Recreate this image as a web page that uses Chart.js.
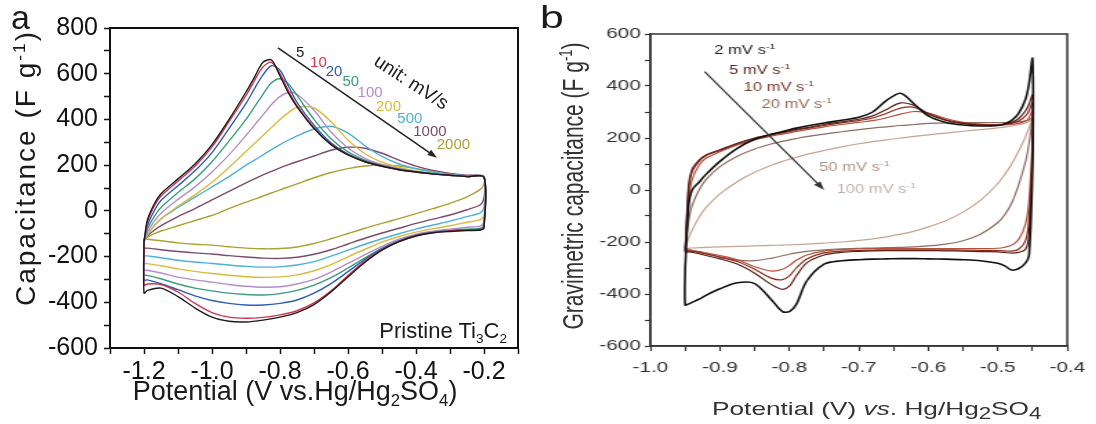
<!DOCTYPE html>
<html>
<head>
<meta charset="utf-8">
<script src="https://cdn.jsdelivr.net/npm/chart.js@4.4.1/dist/chart.umd.min.js"></script>
<style>
  html, body { margin: 0; padding: 0; background: #fff; }
  body { width: 1096px; height: 424px; position: relative; overflow: hidden;
         font-family: 'Liberation Sans', Arial, sans-serif; color: #1a1a1a; }
  .panel { position: absolute; top: 0; height: 424px; }
  #panelA { left: 0; width: 540px; }
  #panelB { left: 540px; width: 403px; transform: scaleX(1.38); transform-origin: 0 0; }
  canvas { position: absolute; left: 0; top: 0; }
  .txt { position: absolute; white-space: nowrap; line-height: 1; }
  .mid { transform: translate(-50%, -50%); }
  .rot { transform: translate(-50%, -50%) rotate(-90deg); }
  sup, sub { font-size: 0.62em; line-height: 0; }
  #panelB sub { font-size: 0.85em; }
</style>
</head>
<body>
<div class="panel" id="panelA">
  <canvas id="chartA" width="540" height="424"></canvas>
  <div class="txt" style="left:11px; top:0px; font-size:34px;">a</div>
  <div class="txt rot" style="left:26px; top:168px; font-size:28px; letter-spacing:2px;">Capacitance (F g<sup>-1</sup>)</div>
  <div class="txt mid" style="left:295px; top:391px; font-size:27px;">Potential (V vs.Hg/Hg<sub>2</sub>SO<sub>4</sub>)</div>
  <div class="txt" style="right:33px; top:320px; font-size:22px;">Pristine Ti<sub>3</sub>C<sub>2</sub></div>
</div>
<div class="panel" id="panelB">
  <canvas id="chartB" width="403" height="424"></canvas>
  <div class="txt" style="left:0px; top:2px; font-size:31px;">b</div>
  <div class="txt rot" style="left:24px; top:186px; font-size:21px; color:#333;">Gravimetric capacitance (F g<sup>-1</sup>)</div>
  <div class="txt mid" style="left:244px; top:408px; font-size:19px; color:#333;">Potential (V) <i>vs</i>. Hg/Hg<sub>2</sub>SO<sub>4</sub></div>
</div>
<script>
// ---------- panel a : pristine Ti3C2, scan rates in mV/s ----------
const ratesA = ['5', '10', '20', '50', '100', '200', '500', '1000', '2000'];

// anodic sweep (-1.2 -> -0.2 V)
const potUpA = [-1.2, -1.19, -1.17, -1.15, -1.1, -1.05, -1.0, -0.95, -0.9, -0.875, -0.85, -0.825, -0.8,
                -0.775, -0.75, -0.7, -0.65, -0.6, -0.55, -0.5, -0.45, -0.4, -0.35, -0.3, -0.25, -0.2];
const upA = [
  [-135, -40, 30, 75, 140, 205, 290, 400, 520, 585, 650, 660, 590, 515, 455, 360, 290, 245, 215, 195, 180, 170, 162, 156, 150, 147],
  [-135, -50, 20, 65, 130, 195, 280, 390, 505, 570, 630, 650, 600, 525, 460, 365, 292, 246, 215, 195, 180, 170, 162, 156, 150, 147],
  [-135, -65, 0, 45, 110, 175, 255, 360, 470, 535, 595, 635, 615, 545, 475, 375, 298, 248, 216, 196, 181, 170, 162, 156, 150, 147],
  [-135, -80, -25, 15, 80, 140, 215, 305, 400, 455, 510, 560, 578, 555, 505, 400, 315, 258, 222, 199, 183, 171, 163, 156, 150, 147],
  [-135, -95, -45, -10, 50, 105, 170, 245, 330, 375, 420, 465, 500, 518, 510, 440, 345, 275, 230, 203, 185, 172, 163, 156, 150, 147],
  [-135, -105, -65, -35, 20, 70, 125, 190, 260, 295, 330, 365, 400, 430, 452, 450, 390, 310, 250, 213, 190, 175, 164, 157, 151, 147],
  [-135, -105, -65, -35, 15, 60, 105, 150, 200, 222, 245, 268, 290, 310, 328, 358, 370, 340, 285, 238, 205, 184, 170, 160, 153, 148],
  [-130, -110, -85, -65, -25, 10, 48, 85, 122, 140, 157, 173, 188, 202, 215, 240, 265, 278, 274, 252, 222, 196, 177, 164, 156, 150],
  [-125, -115, -100, -88, -65, -42, -20, 10, 38, 51, 65, 78, 92, 105, 118, 145, 168, 185, 196, 200, 196, 185, 172, 161, 153, 148]
];

// cathodic sweep (-0.2 -> -1.2 V), stored by ascending potential
const potDownA = [-1.2, -1.19, -1.15, -1.1, -1.05, -1.0, -0.95, -0.9, -0.85, -0.8, -0.75, -0.7,
                  -0.65, -0.6, -0.55, -0.5, -0.45, -0.4, -0.35, -0.3, -0.25, -0.21, -0.2];
const downA = [
  [-360, -348, -338, -375, -425, -465, -483, -486, -478, -465, -445, -410, -355, -289, -225, -172, -135, -110, -96, -90, -86, -84, -75],
  [-325, -320, -322, -355, -405, -445, -465, -470, -466, -455, -437, -403, -350, -283, -220, -170, -134, -109, -95, -88, -84, -82, -72],
  [-302, -302, -318, -345, -372, -392, -405, -412, -412, -405, -390, -360, -318, -266, -212, -166, -131, -107, -94, -87, -83, -80, -65],
  [-280, -282, -297, -320, -338, -350, -360, -366, -368, -362, -348, -325, -292, -250, -206, -163, -130, -106, -93, -86, -80, -76, -58],
  [-258, -260, -272, -290, -302, -312, -322, -330, -334, -332, -320, -300, -268, -230, -192, -155, -124, -102, -89, -80, -72, -66, -45],
  [-229, -231, -240, -254, -265, -274, -282, -288, -291, -289, -280, -262, -235, -201, -168, -137, -112, -93, -78, -65, -50, -38, -20],
  [-195, -197, -205, -216, -224, -230, -237, -243, -246, -245, -237, -222, -198, -172, -146, -122, -100, -80, -62, -45, -25, -8, 18],
  [-162, -163, -170, -178, -184, -189, -196, -202, -207, -208, -203, -190, -170, -145, -120, -97, -76, -55, -36, -18, 5, 28, 60],
  [-122, -124, -131, -140, -146, -150, -157, -163, -166, -165, -158, -143, -122, -99, -76, -55, -34, -12, 10, 33, 61, 95, 118]
];

// ---------- panel b : scan rates in mV/s ----------
const ratesB = ['2', '5', '10', '20', '50', '100'];

const potB = [-0.95, -0.945, -0.94, -0.93, -0.92, -0.9, -0.875, -0.85, -0.825, -0.81, -0.8, -0.79, -0.775, -0.75,
              -0.725, -0.7, -0.68, -0.66, -0.64, -0.62, -0.6, -0.575, -0.55, -0.525, -0.5, -0.49, -0.48, -0.47,
              -0.46, -0.455, -0.45];
const upB = [
  [-300, -60, 0, 30, 60, 110, 160, 195, 215, 225, 232, 238, 246, 258, 268, 280, 300, 345, 372, 330, 285, 260, 250, 246, 248, 255, 268, 295, 350, 410, 505],
  [-240, 20, 80, 115, 135, 155, 180, 200, 215, 222, 228, 233, 240, 252, 262, 272, 285, 310, 335, 325, 292, 268, 255, 250, 250, 253, 260, 275, 305, 330, 365],
  [-235, 0, 70, 110, 132, 152, 177, 197, 212, 220, 225, 230, 237, 248, 258, 267, 277, 295, 315, 318, 295, 270, 257, 251, 250, 252, 256, 265, 285, 305, 335],
  [-230, -40, 40, 95, 122, 147, 173, 193, 208, 215, 220, 225, 232, 243, 252, 260, 267, 278, 292, 302, 296, 275, 260, 253, 250, 250, 252, 256, 265, 278, 305],
  [-225, -120, -60, 0, 40, 90, 130, 158, 178, 187, 193, 198, 205, 215, 224, 232, 238, 243, 248, 252, 256, 258, 259, 259, 259, 259, 260, 262, 266, 270, 280],
  [-225, -185, -155, -105, -68, -15, 32, 68, 96, 110, 118, 126, 137, 152, 166, 178, 186, 193, 200, 206, 212, 219, 226, 232, 239, 242, 246, 251, 258, 264, 272]
];
const downB = [
  [-442, -438, -432, -420, -405, -380, -357, -360, -425, -468, -468, -440, -350, -285, -272, -268, -266, -265, -264, -264, -265, -266, -268, -272, -282, -292, -308, -302, -280, -250, 100],
  [-240, -238, -240, -245, -252, -265, -285, -320, -365, -382, -370, -330, -280, -250, -240, -236, -234, -233, -233, -233, -233, -234, -235, -237, -238, -240, -243, -240, -228, -170, 150],
  [-235, -235, -236, -240, -246, -258, -275, -305, -340, -345, -330, -300, -265, -242, -235, -232, -231, -230, -230, -230, -230, -230, -231, -232, -233, -234, -235, -228, -195, -110, 180],
  [-230, -232, -234, -237, -242, -252, -268, -295, -312, -305, -290, -270, -250, -235, -229, -226, -225, -225, -225, -225, -225, -225, -225, -225, -224, -220, -212, -190, -130, -40, 200],
  [-225, -228, -232, -238, -245, -258, -270, -272, -262, -253, -247, -242, -236, -230, -226, -224, -223, -222, -221, -219, -215, -208, -195, -170, -125, -95, -50, 20, 110, 180, 280],
  [-225, -224, -223, -222, -221, -219, -217, -215, -213, -212, -211, -210, -208, -204, -200, -194, -188, -180, -170, -158, -142, -118, -85, -40, 25, 60, 100, 150, 205, 240, 272]
];

// ---------- styles / annotation placement ----------
const colorsA = ['#1b1b1b', '#d2334f', '#2e5db4', '#3b9c7c', '#b58ccb', '#d9ba3c', '#4cb0da', '#7c4a6c', '#a9a233'];
const labelPosA = [[-0.741, 690], [-0.687, 646], [-0.641, 609], [-0.592, 566], [-0.535, 515],
                   [-0.481, 456], [-0.418, 401], [-0.359, 347], [-0.290, 289]];
const colorsB = ['#111111', '#5a1e18', '#8e2c1c', '#b5503c', '#8d6b62', '#c7a292'];
const labelColorsB = ['#222222', '#5b2a26', '#7a3a30', '#9a6858', '#b0948a', '#bfb2ad'];
const labelPosB = [[-0.908, 535], [-0.887, 458], [-0.866, 392], [-0.840, 327], [-0.757, 85], [-0.732, 0]];

Chart.defaults.font.family = "'Liberation Sans', Arial, sans-serif";
Chart.defaults.color = '#1a1a1a';

// closed CV loop: anodic branch forward, cathodic branch back
function loopPoints(potUp, up, potDown, down) {
    const pts = potUp.map((x, i) => ({ x, y: up[i] }));
    for (let i = potDown.length - 1; i >= 0; i--) pts.push({ x: potDown[i], y: down[i] });
    pts.push(pts[0]);
    return pts;
}

function isMajor(v, step) {
    const r = v / step;
    return Math.abs(r - Math.round(r)) < 1e-6;
}

function linearAxis(o) {
    return {
        type: 'linear', min: o.min, max: o.max,
        ticks: {
            stepSize: o.step, precision: 3, autoSkip: false, maxRotation: 0, padding: o.pad,
            font: { size: o.font }, color: o.color,
            callback: v => isMajor(v, o.major) ? (o.dec ? v.toFixed(o.dec) : String(Math.round(v))) : ''
        },
        grid: { display: true, drawOnChartArea: false, drawTicks: true, tickLength: o.tick,
                tickColor: o.color, tickWidth: o.tickWidth },
        border: { display: true, color: o.color, width: o.line },
        afterFit: s => { if (o.w) s.width = o.w; if (o.h) s.height = o.h; }
    };
}

function drawRich(ctx, parts, size, align) {
    const fam = "'Liberation Sans', Arial, sans-serif";
    const fontOf = k => `${k === 'n' ? size : Math.round(size * 0.65)}px ${fam}`;
    const widths = parts.map(([t, k]) => { ctx.font = fontOf(k); return ctx.measureText(t).width; });
    const total = widths.reduce((s, w) => s + w, 0);
    let x = align === 'center' ? -total / 2 : align === 'right' ? -total : 0;
    parts.forEach(([t, k], i) => {
        ctx.font = fontOf(k);
        const dy = k === 'sup' ? -size * 0.38 : k === 'sub' ? size * 0.22 : 0;
        ctx.fillText(t, x, dy);
        x += widths[i];
    });
}

function drawArrow(ctx, x1, y1, x2, y2, a) {
    const ang = Math.atan2(y2 - y1, x2 - x1);
    ctx.strokeStyle = a.color; ctx.fillStyle = a.color; ctx.lineWidth = a.width;
    ctx.beginPath();
    ctx.moveTo(x1, y1);
    ctx.lineTo(x2 - Math.cos(ang) * a.head * 0.8, y2 - Math.sin(ang) * a.head * 0.8);
    ctx.stroke();
    ctx.beginPath();
    ctx.moveTo(x2, y2);
    ctx.lineTo(x2 - a.head * Math.cos(ang - 0.33), y2 - a.head * Math.sin(ang - 0.33));
    ctx.lineTo(x2 - a.head * Math.cos(ang + 0.33), y2 - a.head * Math.sin(ang + 0.33));
    ctx.closePath();
    ctx.fill();
}

function makeNotes(notes) {
    return {
        id: 'notes',
        afterDatasetsDraw(chart) {
            const { ctx, scales: { x, y } } = chart;
            ctx.save();
            notes.arrows.forEach(a => drawArrow(ctx,
                x.getPixelForValue(a.from[0]), y.getPixelForValue(a.from[1]),
                x.getPixelForValue(a.to[0]), y.getPixelForValue(a.to[1]), a));
            notes.labels.forEach(l => {
                ctx.save();
                ctx.translate(x.getPixelForValue(l.at[0]), y.getPixelForValue(l.at[1]));
                if (l.angle) ctx.rotate(l.angle * Math.PI / 180);
                ctx.fillStyle = l.color;
                ctx.textBaseline = 'middle';
                drawRich(ctx, l.parts, l.size, l.align);
                ctx.restore();
            });
            ctx.restore();
        }
    };
}

function makeFrame(color, width) {
    return {
        id: 'frame',
        afterDraw(chart) {
            const { ctx, chartArea: a } = chart;
            ctx.save();
            ctx.strokeStyle = color; ctx.lineWidth = width;
            ctx.strokeRect(a.left, a.top, a.right - a.left, a.bottom - a.top);
            ctx.restore();
        }
    };
}

function renderCV(canvasId, datasets, scales, padding, plugins) {
    new Chart(document.getElementById(canvasId), {
        type: 'scatter',
        data: { datasets },
        options: {
            responsive: false, animation: false, devicePixelRatio: 1, events: [],
            layout: { padding },
            scales,
            plugins: { legend: { display: false }, tooltip: { enabled: false } }
        },
        plugins
    });
}

// ---------- panel a ----------
const dsA = ratesA.map((r, i) => ({
    label: r + ' mV/s',
    data: loopPoints(potUpA, upA[i], potDownA, downA[i]),
    borderColor: colorsA[i], borderWidth: 1.4, showLine: true, pointRadius: 0, tension: 0.3
}));
renderCV('chartA', dsA, {
    x: linearAxis({ min: -1.3, max: -0.1, step: 0.1, major: 0.2, dec: 1, font: 25, pad: 3,
                    tick: 6, tickWidth: 1.5, line: 2, color: '#111', h: 76 }),
    y: linearAxis({ min: -600, max: 800, step: 100, major: 200, font: 25, pad: 6,
                    tick: 6, tickWidth: 1.5, line: 2, color: '#111', w: 110 })
}, { left: 0, right: 22, top: 28, bottom: 0 }, [
    makeFrame('#111', 2),
    makeNotes({
        arrows: [{ from: [-0.806, 713], to: [-0.338, 232], color: '#222', width: 1.5, head: 10 }],
        labels: ratesA.map((r, i) => ({ at: labelPosA[i], parts: [[r, 'n']], color: colorsA[i], size: 15, align: 'center' }))
            .concat([{ at: [-0.415, 560], parts: [['unit: mV/s', 'n']], color: '#222', size: 19, align: 'center', angle: 33 }])
    })
]);

// ---------- panel b ----------
const dsB = ratesB.map((r, i) => ({
    label: r + ' mV/s',
    data: loopPoints(potB, upB[i], potB, downB[i]),
    borderColor: colorsB[i], borderWidth: i === 0 ? 1.6 : 1.2, showLine: true, pointRadius: 0, tension: 0.3
}));
renderCV('chartB', dsB, {
    x: linearAxis({ min: -1.0, max: -0.4, step: 0.05, major: 0.1, dec: 1, font: 15, pad: 8,
                    tick: 5, tickWidth: 1.2, line: 1.5, color: '#333', h: 78 }),
    y: linearAxis({ min: -600, max: 600, step: 100, major: 200, font: 15, pad: 3,
                    tick: 4, tickWidth: 1.2, line: 1.5, color: '#333', w: 80 })
}, { left: 0, right: 15, top: 34, bottom: 0 }, [
    makeFrame('#333', 1.5),
    makeNotes({
        arrows: [{ from: [-0.922, 455], to: [-0.750, 0], color: '#333', width: 1.2, head: 9 }],
        labels: ratesB.map((r, i) => ({ at: labelPosB[i], parts: [[r + ' mV s', 'n'], ['-1', 'sup']],
                                        color: labelColorsB[i], size: 12, align: 'left' }))
    })
]);
</script>
</body>
</html>
